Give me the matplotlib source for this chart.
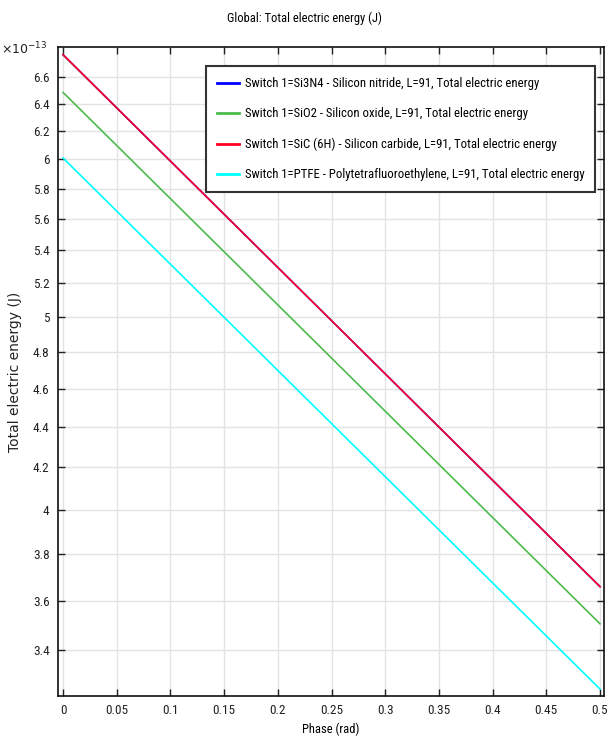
import numpy as np
import matplotlib.pyplot as plt
from matplotlib import font_manager
from matplotlib.font_manager import FontProperties
from matplotlib.ticker import FixedLocator, FixedFormatter, NullLocator

names = {f.name for f in font_manager.fontManager.ttflist}
narrow = None
for cand in ['Liberation Sans Narrow', 'Roboto Condensed', 'Open Sans Condensed',
             'Noto Sans Condensed']:
    if cand in names:
        narrow = cand
        break
if narrow:
    plt.rcParams['font.family'] = [narrow, 'DejaVu Sans']
else:
    plt.rcParams['font.family'] = ['DejaVu Sans']
    plt.rcParams['font.stretch'] = 'condensed'

# values (J)
phase = [0.0, 0.25, 0.5]
e_si3n4 = [6.772e-13, 4.978e-13, 3.659e-13]
e_sio2 = [6.483e-13, 4.767e-13, 3.505e-13]
e_sic = [6.772e-13, 4.978e-13, 3.659e-13]
e_ptfe = [6.009e-13, 4.419e-13, 3.250e-13]

labels = [
    "Switch 1=Si3N4 - Silicon nitride, L=91, Total electric energy",
    "Switch 1=SiO2 - Silicon oxide, L=91, Total electric energy",
    "Switch 1=SiC (6H) - Silicon carbide, L=91, Total electric energy",
    "Switch 1=PTFE - Polytetrafluoroethylene, L=91, Total electric energy",
]
colors = ['#0000ff', '#4cbb4c', '#ff0022', '#00ffff']
series = [e_si3n4, e_sio2, e_sic, e_ptfe]

xticks = [0, 0.05, 0.1, 0.15, 0.2, 0.25, 0.3, 0.35, 0.4, 0.45, 0.5]
yticks = [3.4, 3.6, 3.8, 4, 4.2, 4.4, 4.6, 4.8, 5, 5.2, 5.4, 5.6, 5.8, 6, 6.2, 6.4, 6.6]

fig = plt.figure(figsize=(6.08, 7.42), dpi=100)
ax = fig.add_axes([0.0954, 0.062, 0.898, 0.8747])

for vals, c, lab in zip(series, colors, labels):
    ax.plot(phase, np.array(vals) * 1e13, color=c, lw=1.2, label=lab)

ax.set_yscale('log')
ax.set_xlim(-0.0047, 0.5037)
ax.set_ylim(3.224, 6.833)
ax.yaxis.set_major_locator(FixedLocator(yticks))
ax.yaxis.set_major_formatter(FixedFormatter([f"{v:g}" for v in yticks]))
ax.yaxis.set_minor_locator(NullLocator())
ax.set_xticks(xticks)
ax.set_xticklabels([f"{v:g}" for v in xticks])

ax.tick_params(direction='in', top=True, right=True, length=5, width=1,
               labelsize=9.5, colors='#222222', pad=6)
ax.grid(True, color='#e3e3e3', lw=1)
ax.set_axisbelow(True)
for s in ax.spines.values():
    s.set_linewidth(1.2)
    s.set_color('#111111')

ax.text(-0.02, 0.997, r'$\times10^{-13}$', transform=ax.transAxes, ha='right',
        va='center', fontsize=9, color='#222222')

ax.set_xlabel('Phase (rad)', fontsize=9, labelpad=4)
wide = FontProperties(family='DejaVu Sans', stretch='normal', size=10)
ax.set_ylabel('Total electric energy (J)', fontproperties=wide, color='#222222')
ax.yaxis.set_label_coords(-0.066, 0.5)
fig.text(0.5, 0.976, 'Global: Total electric energy (J)', ha='center',
         va='center', fontsize=9)

leg = ax.legend(loc='upper right', bbox_to_anchor=(0.996, 0.98), fontsize=9.2,
                fancybox=False, framealpha=1, edgecolor='#333333',
                labelspacing=1.35, handlelength=1.7, handletextpad=0.5,
                borderpad=0.85, shadow=False)
leg.get_frame().set_linewidth(1.5)
for h in leg.legend_handles:
    h.set_linewidth(2)

fig.savefig('out.png', dpi=100)
